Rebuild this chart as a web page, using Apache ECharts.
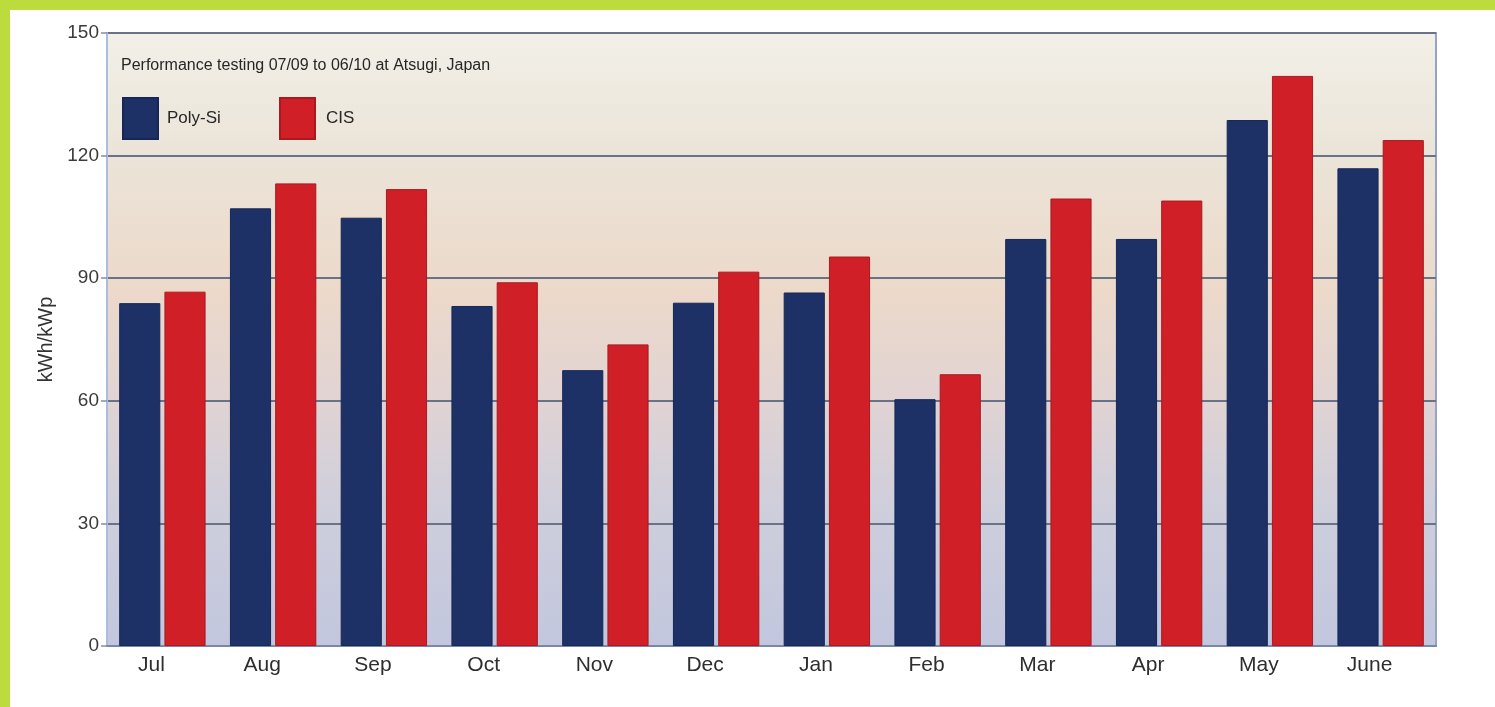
<!DOCTYPE html>
<html>
<head>
<meta charset="utf-8">
<title>Poly-Si vs CIS yield</title>
<script src="https://cdn.jsdelivr.net/npm/echarts@6/dist/echarts.min.js"></script>
<style>
  html, body { margin: 0; padding: 0; background: #ffffff; }
  #chart { width: 1495px; height: 707px; }
</style>
</head>
<body>
<div id="chart"></div>
<script>
// Monthly specific yield, Atsugi test site, July 2009 to June 2010
const months = ['Jul', 'Aug', 'Sep', 'Oct', 'Nov', 'Dec', 'Jan', 'Feb', 'Mar', 'Apr', 'May', 'June'];
const polySi = [83.9, 107.1, 104.8, 83.2, 67.5, 84.0, 86.5, 60.4, 99.6, 99.6, 128.7, 116.9];
const cis    = [86.7, 113.2, 111.8, 89.0, 73.8, 91.6, 95.3, 66.5, 109.5, 109.0, 139.5, 123.8];
const yTicks = [0, 30, 60, 90, 120, 150];

const FONT = '"Liberation Sans Narrow", "Liberation Sans", Arial, sans-serif';
const LIME = '#bcdb3d';

const chart = echarts.init(document.getElementById('chart'), null, { renderer: 'canvas' });

const option = {
  animation: false,
  backgroundColor: '#ffffff',
  title: {
    text: 'Performance testing 07/09 to 06/10 at Atsugi, Japan',
    left: 121,
    top: 58,
    padding: 0,
    textStyle: { fontFamily: FONT, fontSize: 16, fontWeight: 'normal', color: '#262626' }
  },
  legend: [
    {
      data: ['Poly-Si'],
      left: 122, top: 97, padding: 0,
      icon: 'rect', itemWidth: 35, itemHeight: 41,
      textStyle: { fontFamily: FONT, fontSize: 17, color: '#262626', padding: [0, 0, 0, 4] }
    },
    {
      data: ['CIS'],
      left: 279, top: 97, padding: 0,
      icon: 'rect', itemWidth: 35, itemHeight: 41,
      textStyle: { fontFamily: FONT, fontSize: 17, color: '#262626', padding: [0, 0, 0, 6] }
    }
  ],
  grid: {
    left: 107, right: 59, top: 33, bottom: 61,
    show: true,
    borderColor: '#95a3c4',
    borderWidth: 2,
    backgroundColor: {
      type: 'linear', x: 0, y: 0, x2: 0, y2: 1,
      colorStops: [
        { offset: 0.00, color: '#f2f0e8' },
        { offset: 0.20, color: '#ebe4d8' },
        { offset: 0.42, color: '#ecd9ca' },
        { offset: 0.58, color: '#e2d4d2' },
        { offset: 0.78, color: '#cecedc' },
        { offset: 1.00, color: '#c2c7de' }
      ]
    }
  },
  xAxis: {
    type: 'category',
    data: months,
    axisLine: { show: true, lineStyle: { color: '#7b87a6', width: 2 } },
    axisTick: { show: false },
    axisLabel: {
      fontFamily: FONT, fontSize: 21, color: '#2e2e2e',
      margin: 9, padding: [0, 22, 0, 0]
    }
  },
  yAxis: {
    type: 'value',
    min: yTicks[0],
    max: yTicks[yTicks.length - 1],
    interval: yTicks[1] - yTicks[0],
    name: 'kWh/kWp',
    nameLocation: 'middle',
    nameGap: 47,
    nameTextStyle: { fontFamily: FONT, fontSize: 20, color: '#333333' },
    axisLine: { show: true, lineStyle: { color: '#a9bedf', width: 2 } },
    axisTick: { show: true, length: 6, lineStyle: { color: '#8a8f9e', width: 1.5 } },
    axisLabel: { fontFamily: FONT, fontSize: 19, color: '#3a3a3a', margin: 8 },
    splitLine: { show: true, lineStyle: { color: '#6b7186', width: 2 } }
  },
  series: [
    {
      name: 'Poly-Si',
      type: 'bar',
      data: polySi,
      barGap: '10%',
      barCategoryGap: '22%',
      itemStyle: { color: '#1d3167', borderColor: '#172755', borderWidth: 1 }
    },
    {
      name: 'CIS',
      type: 'bar',
      data: cis,
      itemStyle: { color: '#d01f27', borderColor: '#a91a20', borderWidth: 1 }
    }
  ],
  graphic: [
    { type: 'rect', left: 0, top: 0, shape: { width: 1495, height: 10 }, style: { fill: LIME }, silent: true },
    { type: 'rect', left: 0, top: 0, shape: { width: 10, height: 707 }, style: { fill: LIME }, silent: true }
  ]
};

chart.setOption(option);
</script>
</body>
</html>
